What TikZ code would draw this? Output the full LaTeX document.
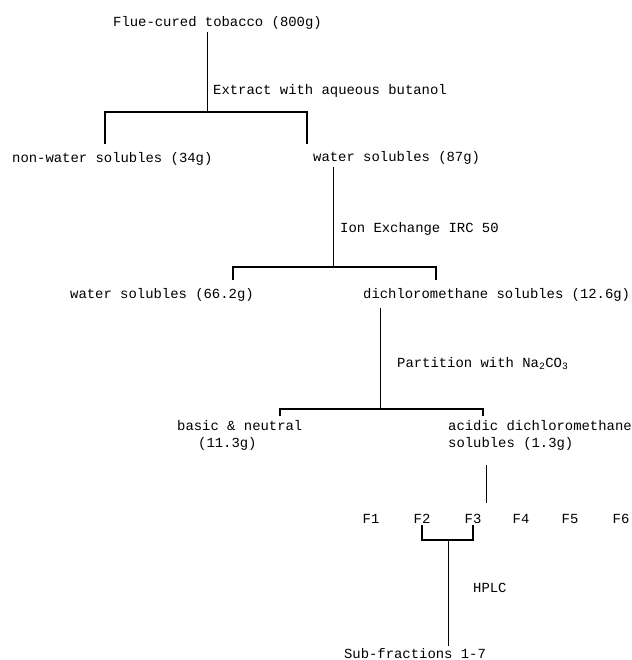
\documentclass[tikz,border=0pt]{standalone}
\usepackage{fontspec}
\newfontfamily\typewriter{Liberation Mono}
\usetikzlibrary{positioning}

\begin{document}
\begin{tikzpicture}[
  x=1pt,
  y=-1pt,
  txt/.style={
    anchor=base west,
    align=left,
    inner sep=2pt,
    font=\typewriter\fontsize{13.9}{17}\selectfont
  },
  fraction/.style={txt, anchor=base},
  stem/.style={
    line width=1pt,
    color=black
  },
  bracket/.style={
    line width=1.4pt,
    color=black
  }
]
\useasboundingbox (0,0) rectangle (631,660);

% Nodes
\node[txt] (tobacco)  at (111,27)  {Flue-cured tobacco (800g)};
\node[txt] (nonwater) at (10,163)  {non-water solubles (34g)};
\node[txt] (water87)  at (311,162) {water solubles (87g)};
\node[txt] (water66)  at (68,298)  {water solubles (66.2g)};
\node[txt] (dcm)      at (361,298) {dichloromethane solubles (12.6g)};
\node[txt] (basic)    at (175,447) {basic \& neutral\\\hspace*{21pt}(11.3g)};
\node[txt] (acidic)   at (446,447) {acidic dichloromethane\\solubles (1.3g)};
\foreach \i/\x in {1/371, 2/422, 3/473, 4/521, 5/570, 6/621}
  \node[fraction] (f\i) at (\x,523) {F\i};
\node[fraction] (sub) at (415,658) {Sub-fractions 1-7};

% Step labels
\node[txt] (extract)   at (211,95)  {Extract with aqueous butanol};
\node[txt] (ionex)     at (338,232) {Ion Exchange IRC 50};
\node[txt] (partition) at (395,367) {Partition with Na\textsubscript{2}CO\textsubscript{3}};
\node[txt] (hplc)      at (471,592) {HPLC};

% Junctions and leg ends
\coordinate (j1) at (207,112);
\coordinate (l1) at (105,144);
\coordinate (r1) at (307,144);
\coordinate (j2) at (333,267);
\coordinate (l2) at (233,280);
\coordinate (r2) at (436,280);
\coordinate (j3) at (380,409);
\coordinate (l3) at (280,416);
\coordinate (r3) at (483,416);
\coordinate (s4) at (486,503);
\coordinate (j4) at (448,540);

% Stems
\draw[stem] (tobacco.south -| j1) -- (j1);
\draw[stem] (water87.south -| j2) -- (j2);
\draw[stem, shorten <=5pt] (dcm.south -| j3) -- (j3);
\draw[stem, shorten <=13pt] (acidic.south -| s4) -- (s4);
\draw[stem] (j4) -- (sub.north -| j4);

% Brackets
\draw[bracket] (l1) |- (j1) -| (r1);
\draw[bracket] (l2) |- (j2) -| (r2);
\draw[bracket] (l3) |- (j3) -| (r3);
\draw[bracket] (f2.south) |- (j4) -| (f3.south);

\end{tikzpicture}
\end{document}
